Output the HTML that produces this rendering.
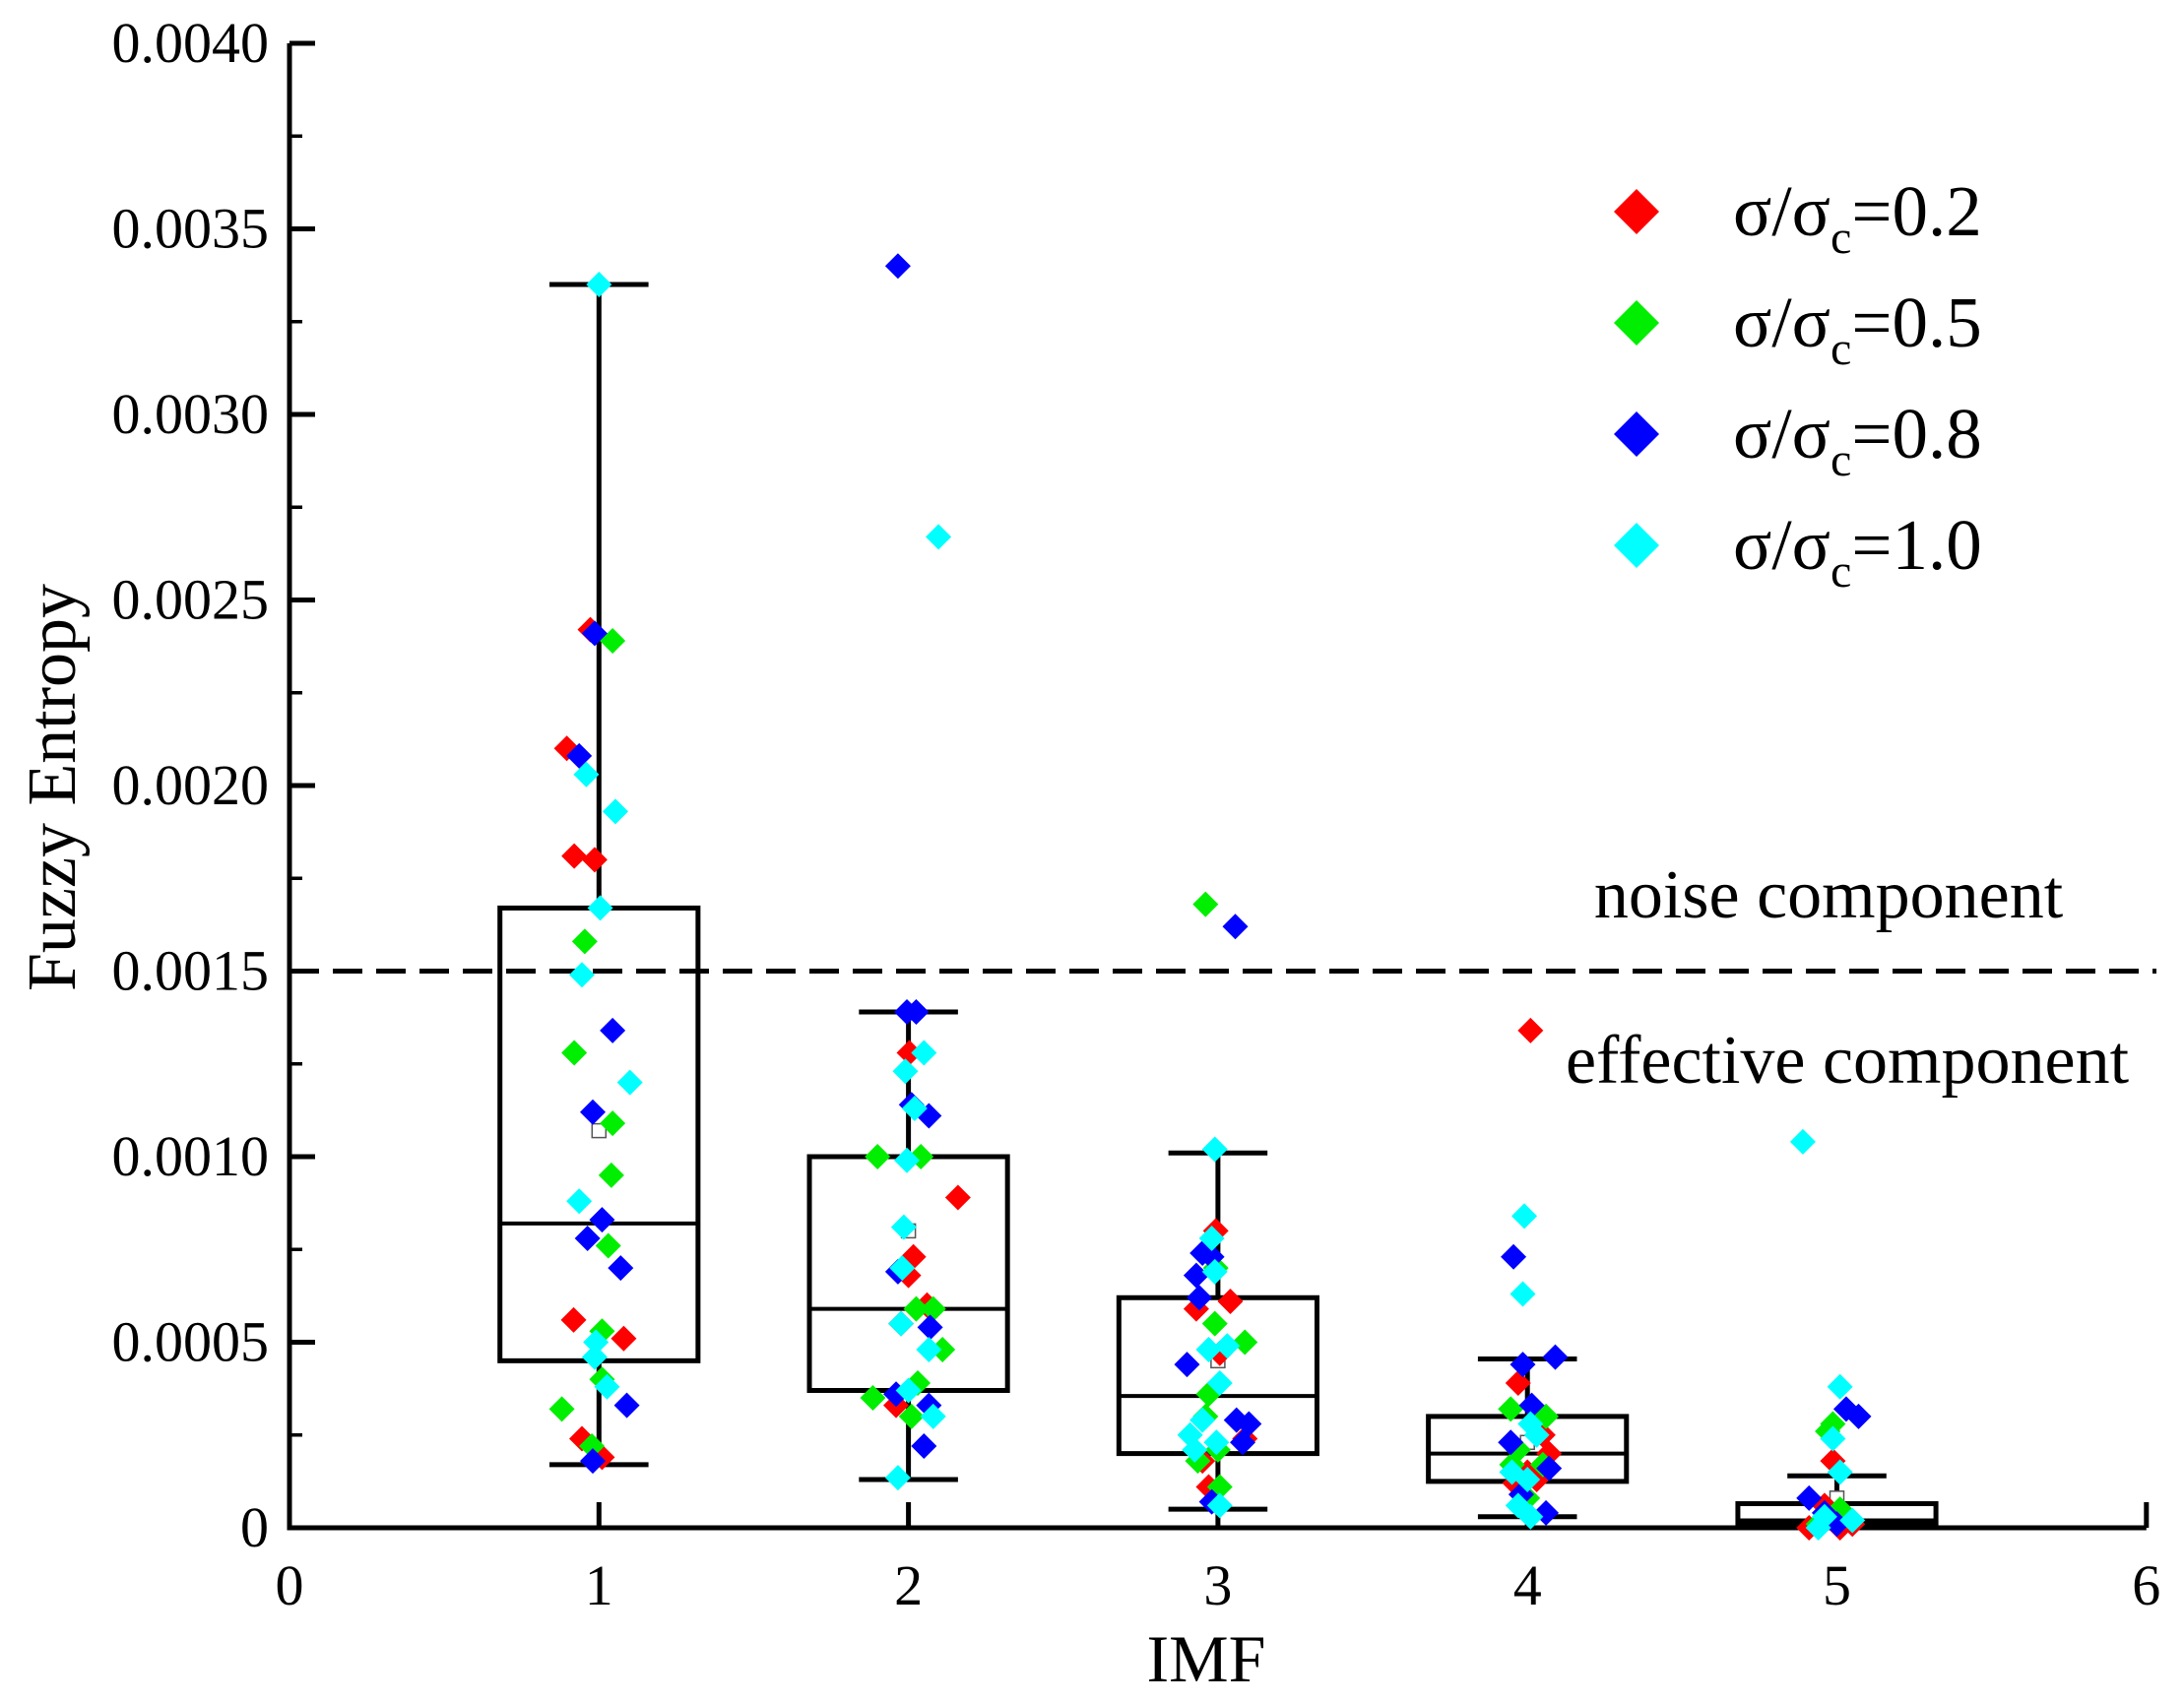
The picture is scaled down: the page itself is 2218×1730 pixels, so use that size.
<!DOCTYPE html>
<html><head><meta charset="utf-8"><style>
html,body{margin:0;padding:0;background:#fff;}
svg{display:block;font-family:"Liberation Serif",serif;}
</style></head><body>
<svg id="chart" width="2218" height="1730" viewBox="0 0 2218 1730" xmlns="http://www.w3.org/2000/svg"></svg>
<script>
const xTicks=[0,1,2,3,4,5,6];
const yTicks=[0,0.0005,0.0010,0.0015,0.0020,0.0025,0.0030,0.0035,0.0040];
const yTickLabels=["0","0.0005","0.0010","0.0015","0.0020","0.0025","0.0030","0.0035","0.0040"];
const boxCats=[1,2,3,4,5];
const boxQ1=[0.00045,0.00037,0.00020,0.000125,0.00001];
const boxMed=[0.00082,0.00059,0.000355,0.00020,0.00002];
const boxQ3=[0.00167,0.00100,0.00062,0.00030,0.000065];
const boxLo=[0.00017,0.00013,0.00005,0.00003,0];
const boxHi=[0.00335,0.00139,0.00101,0.000455,0.00014];
const boxMean=[0.00107,0.00080,0.00045,0.00023,0.00008];
const threshold=0.0015;
const seriesNames=["σ/σc=0.2","σ/σc=0.5","σ/σc=0.8","σ/σc=1.0"];
const seriesColors=["#ff0000","#00ee00","#0000ff","#00ffff"];
const redX=[0.896,0.972,0.92,0.986,0.918,1.08,0.945,1.01, 2.003,2.016,2.16,2.0,1.976,1.96,2.06, 2.993,3.04,2.93,3.006,3.087,2.97,2.95, 4.01,3.97,4.05,4.07,4.0,3.96,4.03, 4.987,4.96,4.91,5.01,5.05];
const redY=[0.0021,0.00242,0.00181,0.0018,0.00056,0.00051,0.00024,0.00019, 0.00128,0.00073,0.00089,0.00068,0.00055,0.00033,0.0006, 0.0008,0.00061,0.00059,0.00047,0.00024,0.00011,0.00018, 0.00134,0.00039,0.00025,0.0002,0.00015,0.00012,0.00013, 0.00018,0.00006,0,0,0.00001];
const greenX=[1.044,0.954,0.92,1.044,1.04,1.03,1.01,0.88,0.977,1.01, 1.9,2.04,2.025,2.08,2.11,1.885,2.01,2.03, 2.96,2.993,2.99,3.087,2.97,2.96,2.935,3.006,3.0, 3.946,4.06,3.97,3.95,4.05,4.0, 4.987,4.97,5.01,4.94];
const greenY=[0.00239,0.00158,0.00128,0.00109,0.00095,0.00076,0.00053,0.00032,0.00022,0.0004, 0.001,0.001,0.00059,0.00059,0.00048,0.00035,0.0003,0.00039, 0.00168,0.0007,0.00055,0.0005,0.00036,0.0003,0.00018,0.00011,0.00021, 0.00032,0.0003,0.00021,0.00017,0.00017,0.00008, 0.00028,0.00026,0.00005,0.00001];
const blueX=[0.986,0.936,1.044,0.98,1.01,0.963,1.07,1.09,0.98, 1.966,1.995,2.025,2.01,2.066,1.966,2.07,2.066,2.05,1.96, 3.056,2.95,2.98,2.93,2.94,2.9,3.06,3.1,3.08,2.98, 3.955,3.985,4.09,4.014,3.946,4.07,4.06,3.98, 5.03,5.07,4.91,4.96,5.0];
const blueY=[0.00241,0.00208,0.00134,0.00112,0.00083,0.00078,0.0007,0.00033,0.00018, 0.0034,0.00139,0.00139,0.00114,0.00111,0.00069,0.00054,0.00033,0.00022,0.00036, 0.00162,0.00074,0.00073,0.00068,0.00062,0.00044,0.00029,0.00028,0.00023,0.00007, 0.00073,0.00044,0.00046,0.00033,0.00023,0.00016,0.00004,0.00009, 0.00032,0.0003,0.00008,0.00004,0.00001];
const cyanX=[1.0,0.959,1.053,1.004,0.945,1.1,0.936,0.99,0.986,1.026, 2.097,2.05,1.99,2.02,1.995,1.985,1.98,1.976,2.066,2.0,2.08,1.966, 2.99,2.98,2.99,2.97,3.03,3.006,2.95,2.91,2.995,2.925,3.006, 3.99,3.985,4.01,3.95,4.0,3.97,4.01,4.03, 4.89,5.01,4.987,5.01,4.96,5.05,4.94];
const cyanY=[0.00335,0.00203,0.00193,0.00167,0.00149,0.0012,0.00088,0.0005,0.00046,0.00038, 0.00267,0.00128,0.00123,0.00113,0.00099,0.00081,0.0007,0.00055,0.00048,0.00037,0.0003,0.000135, 0.00102,0.00078,0.00069,0.00048,0.00049,0.00039,0.00029,0.00025,0.00023,0.00021,0.00006, 0.00084,0.00063,0.00028,0.00015,0.00013,0.00006,0.00003,0.00025, 0.00104,0.00038,0.00024,0.00015,0.00003,0.00002,0];

const NS="http://www.w3.org/2000/svg";
const svg=document.getElementById('chart');
const X0=294,XU=314.3,Y0=1552,YU=188.5/0.0005;
const sx=v=>X0+v*XU, sy=v=>Y0-v*YU;
function mk(tag,attrs,parent){const e=document.createElementNS(NS,tag);for(const k in attrs)e.setAttribute(k,attrs[k]);(parent||svg).appendChild(e);return e;}

let g=mk('g',{});


let yl=mk('line',{x1:sx(0),y1:sy(0.004),x2:sx(0),y2:sy(0)+2.5,stroke:'#000','stroke-width':5},g);


let xl=mk('line',{x1:sx(0)-2.5,y1:sy(0),x2:sx(6),y2:sy(0),stroke:'#000','stroke-width':5},g);


yTicks.forEach((v,i)=>{
  let t=mk('line',{x1:sx(0),y1:sy(v),x2:sx(0)+26,y2:sy(v),stroke:'#000','stroke-width':5},g);
  
  
  if(i<yTicks.length-1){let m=mk('line',{x1:sx(0),y1:sy(v+0.00025),x2:sx(0)+13,y2:sy(v+0.00025),stroke:'#000','stroke-width':3.5},g);
  
  }
  let tx=mk('text',{x:273,y:sy(v)+19,'text-anchor':'end','font-size':58},g);
  tx.textContent=yTickLabels[i];
  
  
});
xTicks.forEach(v=>{
  if(v>0){let t=mk('line',{x1:sx(v),y1:sy(0),x2:sx(v),y2:sy(0)-26,stroke:'#000','stroke-width':5},g);
  
  }
  let tx=mk('text',{x:sx(v),y:1630,'text-anchor':'middle','font-size':58},g);
  tx.textContent=String(v);
  
  
});
let xt=mk('text',{x:1225,y:1708,'text-anchor':'middle','font-size':68});
xt.textContent='IMF';


let yt=mk('text',{x:0,y:0,'text-anchor':'middle','font-size':70,transform:'translate(76,800) rotate(-90)'});
yt.textContent='Fuzzy Entropy';



let th=mk('line',{x1:sx(0),y1:sy(threshold),x2:2190,y2:sy(threshold),stroke:'#000','stroke-width':5,'stroke-dasharray':'30,14'});


let n1=mk('text',{x:1857,y:932,'text-anchor':'middle','font-size':70});
n1.textContent='noise component';


let n2=mk('text',{x:1876,y:1100,'text-anchor':'middle','font-size':70});
n2.textContent='effective component';



boxCats.forEach((c,i)=>{
  let bg=mk('g',{fill:'none',stroke:'#000','stroke-width':5});
  
  
  mk('line',{x1:sx(c),y1:sy(boxHi[i]),x2:sx(c),y2:sy(boxQ3[i])},bg);
  mk('line',{x1:sx(c),y1:sy(boxQ1[i]),x2:sx(c),y2:sy(boxLo[i])},bg);
  mk('line',{x1:sx(c-0.16),y1:sy(boxHi[i]),x2:sx(c+0.16),y2:sy(boxHi[i])},bg);
  mk('line',{x1:sx(c-0.16),y1:sy(boxLo[i]),x2:sx(c+0.16),y2:sy(boxLo[i])},bg);
  mk('rect',{x:sx(c-0.32),y:sy(boxQ3[i]),width:0.64*XU,height:sy(boxQ1[i])-sy(boxQ3[i])},bg);
  mk('line',{x1:sx(c-0.32),y1:sy(boxMed[i]),x2:sx(c+0.32),y2:sy(boxMed[i]),'stroke-width':4},bg);
  mk('rect',{x:sx(c)-7,y:sy(boxMean[i])-7,width:14,height:14,fill:'#fff','stroke-width':1.5,stroke:'#555'},bg);
});

const allX=[redX,greenX,blueX,cyanX], allY=[redY,greenY,blueY,cyanY];
[0,1,2,3].forEach(s=>{
  let sg=mk('g',{fill:seriesColors[s]});
  
  
  allX[s].forEach((xv,j)=>{
    const cx=sx(xv),cy=sy(allY[s][j]),r=13;
    let p=mk('polygon',{points:`${cx},${cy-r} ${cx+r},${cy} ${cx},${cy+r} ${cx-r},${cy}`},sg);
    
    
  });
});

const legY=[215,328,441,554];
seriesNames.forEach((nm,i)=>{
  let lg=mk('g',{});
  
  
  const cx=1662,cy=legY[i],r=23;
  mk('polygon',{points:`${cx},${cy-r} ${cx+r},${cy} ${cx},${cy+r} ${cx-r},${cy}`,fill:seriesColors[i]},lg);
  let t=mk('text',{x:1760,y:cy+24,'font-size':73},lg);
  const val=nm.split('=')[1];
  t.innerHTML='σ/σ<tspan font-size="48" dy="18">c</tspan><tspan dy="-18">='+val+'</tspan>';
});
</script>
</body></html>
